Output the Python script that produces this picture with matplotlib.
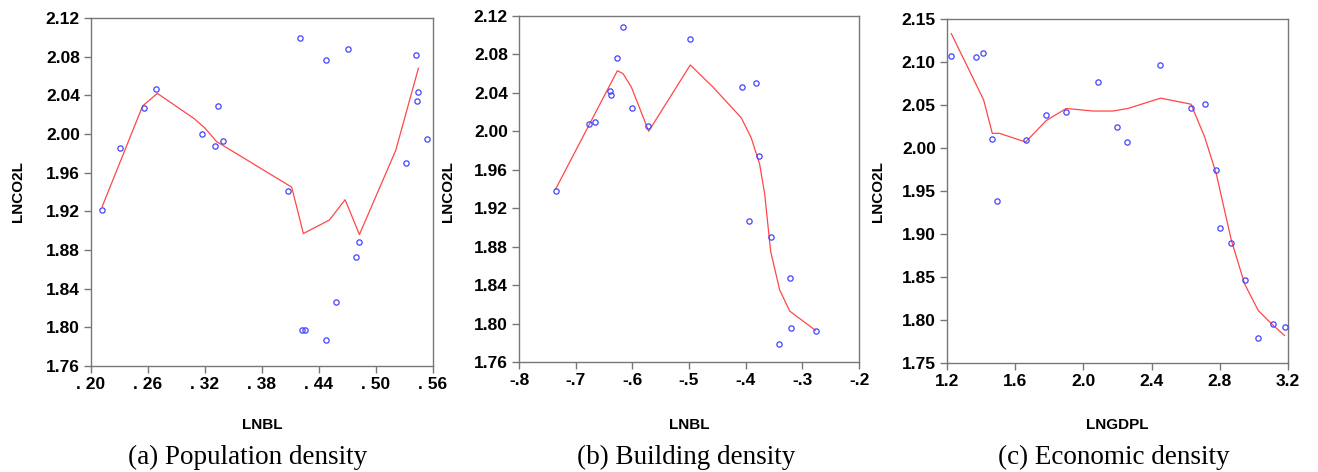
import numpy as np
import matplotlib
matplotlib.use("Agg")
import matplotlib.pyplot as plt

# ---- (a) population density ----
a_x = [.2112, .2309, .2562, .2685, .3169, .3306, .3337, .3387, .4079, .4201, .4226, .4248,
       .4469, .4479, .4581, .4704, .4785, .4817, .5312, .5424, .5442, .5435, .5537]
a_y = [1.921, 1.986, 2.027, 2.047, 2.000, 1.988, 2.029, 1.993, 1.941, 2.099, 1.797, 1.797,
       2.077, 1.787, 1.826, 2.088, 1.873, 1.888, 1.970, 2.082, 2.043, 2.034, 1.995]
a_fx = [.2119, .2544, .2699, .3085, .3201, .3324, .3359, .4113, .4236, .4510, .4675, .4826, .5208, .5447]
a_fy = [1.925, 2.029, 2.042, 2.016, 2.006, 1.992, 1.990, 1.945, 1.897, 1.911, 1.932, 1.896, 1.983, 2.068]

# ---- (b) building density ----
b_x = [-.7353, -.6771, -.6653, -.6389, -.6371, -.6277, -.6165, -.6012, -.5724, -.4984,
       -.4072, -.3943, -.3825, -.3766, -.3561, -.3408, -.3220, -.3196, -.2761]
b_y = [1.938, 2.008, 2.010, 2.042, 2.038, 2.076, 2.109, 2.024, 2.006, 2.096,
       2.046, 1.907, 2.050, 1.974, 1.890, 1.779, 1.847, 1.795, 1.792]
b_fx = [-.7353, -.6265, -.6165, -.6018, -.5871, -.5713, -.4978, -.4578, -.4078, -.3902,
        -.3755, -.3666, -.3560, -.3401, -.3225, -.2772]
b_fy = [1.940, 2.063, 2.060, 2.046, 2.024, 2.000, 2.069, 2.046, 2.014, 1.993,
        1.966, 1.935, 1.875, 1.835, 1.813, 1.793]

# ---- (c) economic density ----
c_x = [1.2215, 1.3681, 1.4131, 1.4639, 1.4933, 1.6633, 1.7826, 1.8999, 2.0876, 2.1951, 2.2557,
       2.4492, 2.6311, 2.7112, 2.7796, 2.8031, 2.8676, 2.9457, 3.0259, 3.1119, 3.1804]
c_y = [2.107, 2.106, 2.110, 2.010, 1.938, 2.009, 2.038, 2.042, 2.077, 2.025, 2.007,
       2.097, 2.047, 2.051, 1.975, 1.907, 1.890, 1.847, 1.779, 1.795, 1.792]
c_fx = [1.2254, 1.415, 1.4659, 1.5089, 1.6614, 1.7826, 1.8999, 2.0563, 2.1736, 2.2616, 2.4531,
        2.6311, 2.7112, 2.7796, 2.8676, 2.9457, 3.0259, 3.1119, 3.1804]
c_fy = [2.133, 2.056, 2.017, 2.017, 2.007, 2.032, 2.046, 2.043, 2.043, 2.046, 2.058,
        2.051, 2.013, 1.970, 1.893, 1.842, 1.811, 1.794, 1.782]

a_xt = [.20, .26, .32, .38, .44, .50, .56]
a_xl = [". 20", ". 26", ". 32", ". 38", ". 44", ". 50", ". 56"]
a_yt = [1.76, 1.80, 1.84, 1.88, 1.92, 1.96, 2.00, 2.04, 2.08, 2.12]
b_xt = [-.8, -.7, -.6, -.5, -.4, -.3, -.2]
b_xl = ["-.8", "-.7", "-.6", "-.5", "-.4", "-.3", "-.2"]
c_xt = [1.2, 1.6, 2.0, 2.4, 2.8, 3.2]
c_xl = ["1.2", "1.6", "2.0", "2.4", "2.8", "3.2"]
c_yt = [1.75, 1.80, 1.85, 1.90, 1.95, 2.00, 2.05, 2.10, 2.15]

fig = plt.figure(figsize=(13.18, 4.72), dpi=100)

panels = [
    ([0.0690, 0.2246, 0.2595, 0.7373], a_x, a_y, a_fx, a_fy, a_xt, a_xl, a_yt,
     "LNBL", "(a) Population density", 0.014, 0.188),
    ([0.3938, 0.2331, 0.2580, 0.7331], b_x, b_y, b_fx, b_fy, b_xt, b_xl, a_yt,
     "LNBL", "(b) Building density", 0.340, 0.521),
    ([0.7185, 0.2309, 0.2587, 0.7288], c_x, c_y, c_fx, c_fy, c_xt, c_xl, c_yt,
     "LNGDPL", "(c) Economic density", 0.666, 0.845),
]

for pos, x, y, fx, fy, xt, xl, yt, xlab, cap, ylx, capx in panels:
    ax = fig.add_axes(pos)
    ax.plot(x, y, "o", ms=3.8, mfc="none", mec="#4444ff", mew=0.9, zorder=3)
    ax.plot(fx, fy, color="#ff3333", lw=0.9, alpha=0.9)
    ax.set_xlim(xt[0], xt[-1])
    ax.set_ylim(yt[0], yt[-1])
    ax.set_xticks(xt)
    ax.set_xticklabels(xl)
    ax.set_yticks(yt)
    ax.set_yticklabels(["%.2f" % v for v in yt])
    for s in ax.spines.values():
        s.set_color("#777777")
        s.set_linewidth(1.0)
    ax.tick_params(direction="out", length=5, width=1, color="#777777",
                   labelsize=12.5, pad=3)
    for lab in ax.get_xticklabels() + ax.get_yticklabels():
        lab.set_fontweight("bold")
        lab.set_family("Liberation Sans")
    fig.text(ylx, 0.595, "LNCO2L", rotation=90, ha="center", va="center",
             fontsize=11, fontweight="bold", family="Liberation Sans")
    fig.text(pos[0] + pos[2] / 2, 0.1, xlab, ha="center", va="center",
             fontsize=11, fontweight="bold", family="Liberation Sans")
    fig.text(capx, 0.03, cap, ha="center", va="center",
             fontsize=19.5, family="Liberation Serif")

fig.savefig("out.png", dpi=100)
